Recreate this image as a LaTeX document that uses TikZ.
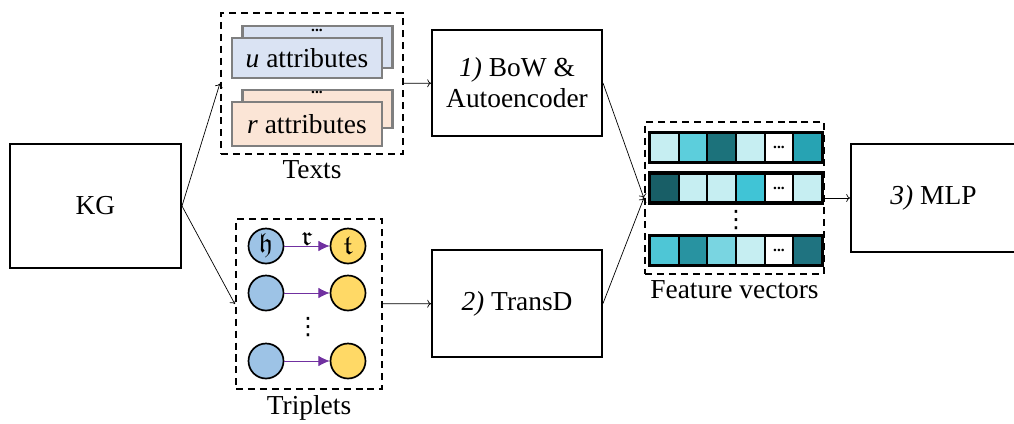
\documentclass[tikz,border=0pt]{standalone}
\usepackage{fontspec}
\setmainfont{Liberation Serif}
\newfontfamily\symfont{DejaVu Sans}
\usepackage{amsfonts}
\usepackage{amsmath}
\usetikzlibrary{positioning}
\usetikzlibrary{arrows.meta}

\definecolor{sheetblue}{RGB}{218,227,243}
\definecolor{sheetorange}{RGB}{251,229,214}
\definecolor{sheetgray}{RGB}{127,127,127}
\definecolor{headblue}{RGB}{157,195,230}
\definecolor{tailyellow}{RGB}{255,217,102}
\definecolor{relpurple}{RGB}{112,48,160}
\definecolor{fvpale}{RGB}{198,238,242}
\definecolor{fvsky}{RGB}{92,206,220}
\definecolor{fvdeep}{RGB}{28,114,123}
\definecolor{fvteal}{RGB}{39,163,179}
\definecolor{fvnight}{RGB}{24,94,102}
\definecolor{fvbright}{RGB}{64,196,214}
\definecolor{fvaqua}{RGB}{78,198,214}
\definecolor{fvsea}{RGB}{40,147,161}
\definecolor{fvmist}{RGB}{121,213,225}
\definecolor{fvdusk}{RGB}{31,115,128}

\tikzset{
    block/.style={draw, line width=1.4pt, inner sep=0pt, align=center},
    dashbox/.style={draw, dashed, dash pattern=on 5pt off 3.5pt, line width=1.6pt, inner sep=0pt},
    sheet/.style={draw=sheetgray, line width=1.6pt, minimum width=37.5mm, inner sep=0pt},
    ent/.style={circle, draw, line width=1.2pt, minimum size=8.75mm, inner sep=0pt},
    cell/.style={draw, line width=1.5pt, minimum width=7.17mm, minimum height=7.25mm, inner sep=0pt},
    rel/.style={relpurple, line width=0.6pt, -{Latex[length=8pt,width=7.5pt]}},
    link/.style={->, line width=0.5pt},
    smalldots/.style={font=\fontsize{11}{11}\selectfont\bfseries, inner sep=0pt},
    vdotsnode/.style={font=\fontsize{17}{17}\symfont, inner sep=0pt}
}

\begin{document}
\begin{tikzpicture}[x=0.25mm, y=-0.25mm, font=\fontsize{19.5}{22}\selectfont]
    \useasboundingbox (0,0) rectangle (1014,423);

    \node[block, minimum width=42.75mm, minimum height=31mm] (kg) at (95.5,206) {KG};

    % texts
    \node[dashbox, minimum width=45.5mm, minimum height=35.25mm] (texts) at (312,83.5) {};
    \node[below=0pt of texts] (textslabel) {Texts};
    \node[sheet, fill=sheetblue, minimum height=10.5mm] (uback) at (317.5,47) {};
    \node[smalldots] (udots) at (317,30) {...};
    \node[sheet, fill=sheetblue, minimum height=10mm] (ufront) at (307,58) {\textit{u} attributes};
    \node[sheet, fill=sheetorange, minimum height=9.5mm] (rback) at (317.5,109) {};
    \node[smalldots] (rdots) at (317,92) {...};
    \node[sheet, fill=sheetorange, minimum height=11mm] (rfront) at (307,124) {\textit{r} attributes};

    % triplets
    \node[dashbox, minimum width=36.5mm, minimum height=42.5mm] (triplets) at (309,304) {};
    \node[below=0pt of triplets] (tripletslabel) {Triplets};
    \node[ent, fill=headblue] (h1) at (266,246) {$\mathfrak{h}$};
    \node[ent, fill=tailyellow] (t1) at (348,246) {$\mathfrak{t}$};
    \node[ent, fill=headblue] (h2) at (266,293) {};
    \node[ent, fill=tailyellow] (t2) at (348,293) {};
    \node[ent, fill=headblue] (h3) at (266,361) {};
    \node[ent, fill=tailyellow] (t3) at (348,361) {};
    \draw[rel] (h1) -- node[above=-3pt, black] {$\mathfrak{r}$} (t1);
    \draw[rel] (h2) -- (t2);
    \draw[rel] (h3) -- (t3);
    \node[vdotsnode] (tdots) at (308,327) {⋮};

    \node[block, minimum width=42.5mm, minimum height=26.5mm] (bow) at (517,83) {\textit{1)} BoW \&\\Autoencoder};
    \node[block, minimum width=42.5mm, minimum height=26.75mm] (transd) at (517,303.5) {\textit{2)} TransD};

    % feature vectors
    \node[dashbox, minimum width=44.75mm, minimum height=38mm] (features) at (734.5,198) {};
    \node[below=0pt of features] (featureslabel) {Feature vectors};
    \foreach \c [count=\i] in {fvpale,fvsky,fvdeep,fvpale,white,fvteal}
        \node[cell, fill=\c] (fa\i) at ({650+28.67*(\i-0.5)},147.5) {};
    \foreach \c [count=\i] in {fvnight,fvpale,fvpale,fvbright,white,fvpale}
        \node[cell, fill=\c] (fb\i) at ({650+28.67*(\i-0.5)},188) {};
    \foreach \c [count=\i] in {fvaqua,fvsea,fvmist,fvpale,white,fvdusk}
        \node[cell, fill=\c] (fc\i) at ({650+28.67*(\i-0.5)},250.5) {};
    \foreach \r in {fa,fb,fc} {
        \draw[line width=2pt] (\r1.north west) rectangle (\r6.south east);
        \node[smalldots] at (\r5) {...};
    }
    \node[vdotsnode] (fdots) at (736,220) {⋮};

    \node[block, minimum width=41.25mm, minimum height=27mm] (mlp) at (933.5,198) {\textit{3)} MLP};

    \draw[link] (kg.east) -- (texts.west);
    \draw[link] (kg.east) -- (triplets.west);
    \draw[link] (texts) -- (bow);
    \draw[link] (triplets) -- (transd);
    \draw[link] (bow.east) -- (features.west);
    \draw[link] (transd.east) -- (features.west);
    \draw[link] (features) -- (mlp);
\end{tikzpicture}
\end{document}
